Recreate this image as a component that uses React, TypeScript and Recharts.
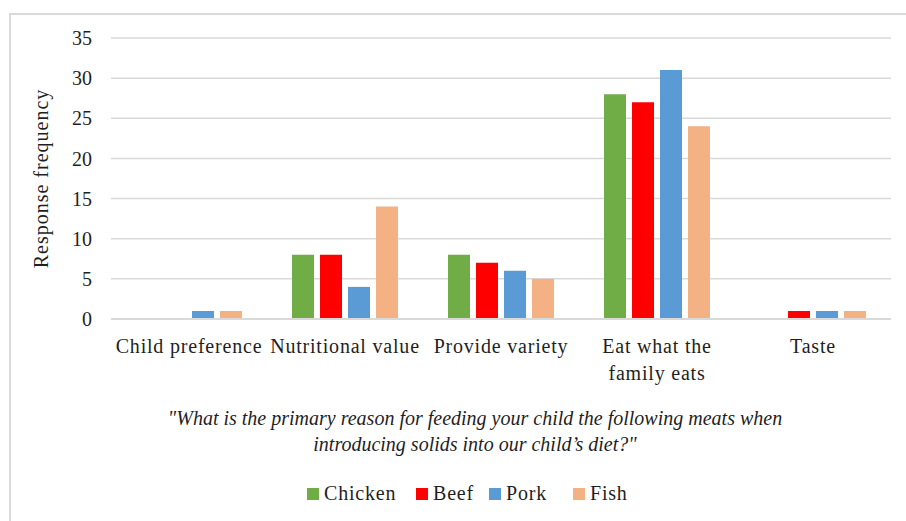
import { BarChart, Bar, XAxis, YAxis, CartesianGrid, Legend } from 'recharts';

const categories = ['Child preference', 'Nutritional value', 'Provide variety', 'Eat what the\nfamily eats', 'Taste'];
const seriesNames = ['Chicken', 'Beef', 'Pork', 'Fish'];
const chicken = [0, 8, 8, 28, 0];
const beef = [0, 8, 7, 27, 1];
const pork = [1, 4, 6, 31, 1];
const fish = [1, 14, 5, 24, 1];
const yTicks = [0, 5, 10, 15, 20, 25, 30, 35];
const subtitle = [
  '"What is the primary reason for feeding your child the following meats when',
  "introducing solids into our child\u2019s diet?\"",
];

const data = categories.map((reason, i) => ({
  reason,
  Chicken: chicken[i],
  Beef: beef[i],
  Pork: pork[i],
  Fish: fish[i],
}));

const FONT = '"Palatino Linotype", "Book Antiqua", Palatino, "Liberation Serif", serif';
const TEXT = '#1f1f1f';
const FS = 20;
const LS = 0.8;
// legend slot widths, roughly as in the original
const legendSlots = [109, 73, 84, 60];

const CategoryTick = (props: any) => {
  const { x, y, payload } = props;
  const lines = String(payload.value).split('\n');
  return (
    <text x={x} y={y} textAnchor="middle" fill={TEXT} fontSize={FS} fontFamily={FONT} letterSpacing={LS}>
      {lines.map((l, i) => (
        <tspan key={i} x={x} dy={i === 0 ? 26 : 27}>
          {l}
        </tspan>
      ))}
    </text>
  );
};

const Subtitle = () => (
  <text textAnchor="middle" fill={TEXT} fontSize={FS} fontFamily={FONT} fontStyle="italic">
    <tspan x={475} y={425}>{subtitle[0]}</tspan>
    <tspan x={475} y={451}>{subtitle[1]}</tspan>
  </text>
);

const LegendContent = (props: any) => {
  const items = [...(props.payload || [])].sort(
    (a: any, b: any) => seriesNames.indexOf(a.value) - seriesNames.indexOf(b.value)
  );
  return (
    <div style={{ display: 'flex', paddingLeft: 287, height: 22 }}>
      {items.map((it: any, i: number) => (
        <div key={it.value} style={{ display: 'flex', alignItems: 'center', gap: 5, width: legendSlots[i] }}>
          <span style={{ width: 12, height: 12, background: it.color, display: 'inline-block', marginTop: 2 }} />
          <span style={{ color: TEXT, fontSize: FS, fontFamily: FONT, letterSpacing: LS, lineHeight: '22px' }}>
            {it.value}
          </span>
        </div>
      ))}
    </div>
  );
};

export default function App() {
  return (
    <div>
      <div
        style={{
          position: 'fixed',
          top: 13,
          left: 9,
          width: 897,
          height: 508,
          borderTop: '2px solid #d9d9d9',
          borderLeft: '2px solid #d9d9d9',
          boxSizing: 'border-box',
          background: '#fff',
        }}
      />
      <div style={{ position: 'fixed', top: 0, left: 0 }}>
        <BarChart
          width={906}
          height={521}
          data={data}
          margin={{ top: 38, right: 15, left: 20, bottom: 17 }}
          barSize={22}
          barGap={6}
        >
          <CartesianGrid vertical={false} stroke="#d9d9d9" strokeWidth={1.5} />
          <XAxis
            dataKey="reason"
            axisLine={{ stroke: '#d9d9d9', strokeWidth: 2 }}
            tickLine={false}
            tick={<CategoryTick />}
            interval={0}
            height={163}
            label={<Subtitle />}
          />
          <YAxis
            domain={[0, 35]}
            ticks={yTicks}
            axisLine={false}
            tickLine={false}
            width={91}
            tickMargin={13}
            tick={{ fill: TEXT, fontSize: FS, fontFamily: FONT }}
            label={{
              value: 'Response frequency',
              angle: -90,
              position: 'insideLeft',
              offset: 0,
              dx: 21,
              style: { fill: TEXT, fontSize: FS, fontFamily: FONT, letterSpacing: 1, textAnchor: 'middle' },
            }}
          />
          <Legend verticalAlign="bottom" content={<LegendContent />} />
          <Bar dataKey="Chicken" fill="#70AD47" isAnimationActive={false} />
          <Bar dataKey="Beef" fill="#FF0000" isAnimationActive={false} />
          <Bar dataKey="Pork" fill="#5B9BD5" isAnimationActive={false} />
          <Bar dataKey="Fish" fill="#F4B183" isAnimationActive={false} />
        </BarChart>
      </div>
    </div>
  );
}
